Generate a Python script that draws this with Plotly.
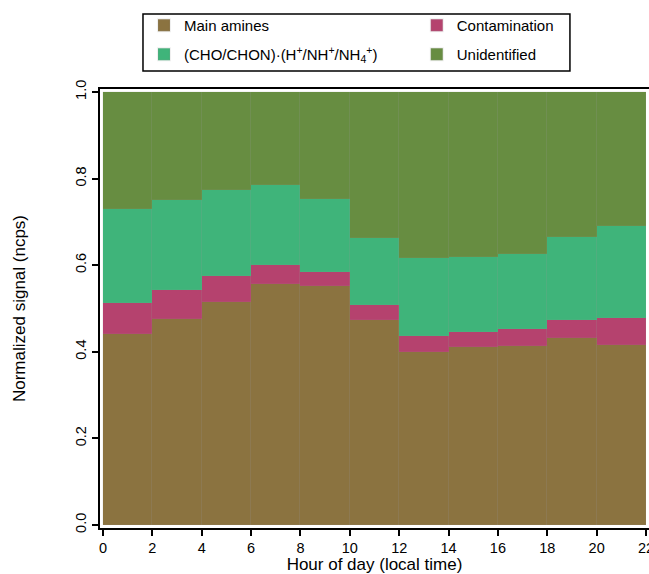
import plotly.graph_objects as go

hours = [0, 2, 4, 6, 8, 10, 12, 14, 16, 18, 20]
bin_width = 2
main_amines = [0.442, 0.476, 0.515, 0.557, 0.552, 0.473, 0.400, 0.411, 0.413, 0.431, 0.415]
contamination = [0.070, 0.067, 0.059, 0.043, 0.032, 0.035, 0.036, 0.035, 0.039, 0.043, 0.062]
cho_chon = [0.218, 0.207, 0.200, 0.185, 0.170, 0.154, 0.181, 0.173, 0.175, 0.190, 0.213]
unidentified = [0.270, 0.250, 0.226, 0.215, 0.246, 0.338, 0.383, 0.381, 0.373, 0.336, 0.310]

x_ticks = [0, 2, 4, 6, 8, 10, 12, 14, 16, 18, 20, 22]
y_ticks = [0.0, 0.2, 0.4, 0.6, 0.8, 1.0]

series = [
    ("Main amines", main_amines, "#8B7340", "legend"),
    ("Contamination", contamination, "#B5426E", "legend2"),
    ("(CHO/CHON)·(H<sup>+</sup>/NH<sup>+</sup>/NH<sub>4</sub><sup>+</sup>)", cho_chon, "#3FB47A", "legend"),
    ("Unidentified", unidentified, "#678D41", "legend2"),
]

centers = [h + bin_width / 2 for h in hours]

fig = go.Figure()
for i, (name, vals, col, leg) in enumerate(series):
    fig.add_trace(go.Bar(
        x=centers, y=vals, width=bin_width, name=name,
        legend=leg, legendgroup=f"g{i}",
        marker=dict(color=col, line=dict(color="rgba(150,150,150,0.15)", width=0.7)),
    ))

font = "Liberation Sans, Arial, sans-serif"
leg_common = dict(
    orientation="v", yanchor="top", xanchor="left",
    bgcolor="rgba(0,0,0,0)", borderwidth=0,
    font=dict(family=font, size=15, color="black"),
    tracegroupgap=6.5, itemsizing="constant",
)
fig.update_layout(
    width=649, height=574,
    margin=dict(l=100, r=0, t=89, b=46, autoexpand=False),
    barmode="stack", bargap=0,
    plot_bgcolor="white", paper_bgcolor="white",
    font=dict(family=font, size=14.5, color="black"),
    legend=dict(x=0.0801, y=1.1822, **leg_common),
    legend2=dict(x=0.577, y=1.1822, **leg_common),
    shapes=[dict(
        type="rect", xref="paper", yref="paper",
        x0=0.0783, x1=0.856, y0=1.041, y1=1.171,
        line=dict(color="black", width=1.5), fillcolor="rgba(0,0,0,0)",
    )],
    xaxis=dict(
        range=[-0.12, 22.12], tickmode="array", tickvals=x_ticks,
        ticks="outside", ticklen=6, tickwidth=1.5, tickcolor="black",
        ticklabeloverflow="allow", automargin=False,
        showline=True, linecolor="black", linewidth=1.5, mirror=True,
        showgrid=False, zeroline=False,
        title=dict(text="Hour of day (local time)", standoff=4),
    ),
    yaxis=dict(
        range=[-0.0069, 1.0069], tickmode="array", tickvals=y_ticks,
        tickformat=".1f", tickangle=-90, automargin=False,
        ticks="outside", ticklen=6, tickwidth=1.5, tickcolor="black",
        showline=True, linecolor="black", linewidth=1.5, mirror=False,
        showgrid=False, zeroline=False,
        title=dict(text="Normalized signal (ncps)", standoff=44),
    ),
)

fig.write_html("out.html")
